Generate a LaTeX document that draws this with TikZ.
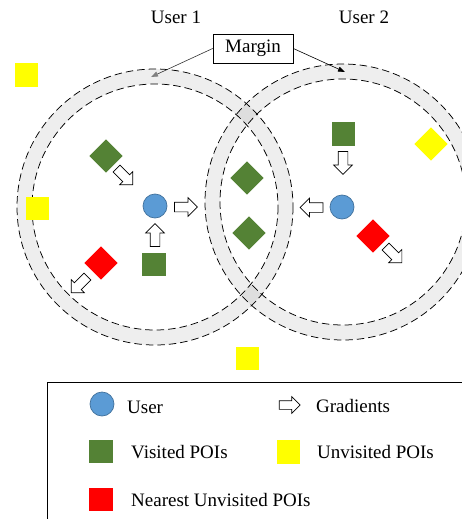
\documentclass[tikz,border=0pt]{standalone}
\usepackage{fontspec}
\setmainfont{Liberation Serif}
\usetikzlibrary{shapes.arrows,shapes.geometric,arrows.meta}
\definecolor{poigreen}{HTML}{548235}
\definecolor{poiyellow}{HTML}{FFFF00}
\definecolor{poired}{HTML}{FF0000}
\definecolor{userblue}{HTML}{5B9BD5}
\definecolor{userborder}{HTML}{41719C}
\tikzset{
  poi/.style={rectangle, minimum width=23.5pt, minimum height=23.5pt, inner sep=0pt, draw=none},
  visited/.style={poi, fill=poigreen},
  unvisited/.style={poi, fill=poiyellow},
  nearest/.style={poi, fill=poired},
  usernode/.style={circle, fill=userblue, draw=userborder, line width=0.7pt, minimum size=24pt, inner sep=0pt},
  grad/.style={single arrow, draw=black, fill=white, line width=0.7pt, minimum height=23pt,
    inner xsep=0pt, inner ysep=4.5pt, single arrow head extend=4.5pt, single arrow head indent=0pt},
  ringfill/.style={fill=black, fill opacity=0.065, even odd rule},
  ringline/.style={draw=black, line width=0.75pt, dash pattern=on 7.5pt off 4pt},
  lbl/.style={inner sep=0pt, font=\fontsize{19}{22}\selectfont},
  marginarrow/.style={line width=0.6pt}
}
\begin{document}
\begin{tikzpicture}[x=1pt, y=-1pt]
\useasboundingbox (0,0) rectangle (462,519);
\clip (0,0) rectangle (462,519);
% ring centres
\coordinate (c1) at (155,207);
\coordinate (c2) at (343,202);
% rings
\fill[ringfill] (c1) circle[radius=138] (c1) circle[radius=123];
\fill[ringfill] (c2) circle[radius=138] (c2) circle[radius=123];
\draw[ringline] (c1) circle[radius=138];
\draw[ringline] (c1) circle[radius=123];
\draw[ringline] (c2) circle[radius=138];
\draw[ringline] (c2) circle[radius=123];
% titles
\node[lbl, anchor=base] (t1) at (176,24) {User 1};
\node[lbl, anchor=base] (t2) at (364,24) {User 2};
% margin label
\node[draw=black, fill=white, line width=0.7pt, minimum width=80pt, minimum height=29pt, inner sep=0pt,
      font=\fontsize{19}{22}\selectfont] (margin) at (253,48.5) {Margin};
\coordinate (mtipl) at (151,77);
\coordinate (mtipr) at (345,72);
\draw[marginarrow, draw=black!80, -{Triangle[length=7pt,width=5pt,color=gray]}] (margin.west) -- (mtipl);
\draw[marginarrow, -{Triangle[length=7pt,width=5pt]}] (margin.east) -- (mtipr);
% user 1 region
\node[unvisited] (y1) at (26.5,75) {};
\node[unvisited] (y2) at (37.5,208.5) {};
\node[visited, rotate=45] (g1) at (106,156) {};
\node[grad, rotate=-45] (a1) at (123,175) {};
\node[usernode] (u1) at (155,206) {};
\node[grad] (a2) at (183.5,207) {};
\node[grad, rotate=90] (a3) at (155,237.5) {};
\node[visited] (g2) at (154,264.5) {};
\node[nearest, rotate=45] (r1) at (101,263) {};
\node[grad, rotate=-135] (a4) at (81,283) {};
% overlap
\node[visited, rotate=45] (g3) at (247,178) {};
\node[visited, rotate=45] (g4) at (249,233) {};
% user 2 region
\node[visited] (g5) at (343.5,134) {};
\node[grad, rotate=-90] (a5) at (343,160.5) {};
\node[unvisited, rotate=45] (y3) at (431,144) {};
\node[usernode] (u2) at (342,207) {};
\node[grad, rotate=180] (a6) at (314,207.5) {};
\node[nearest, rotate=45] (r2) at (373,236) {};
\node[grad, rotate=-45] (a7) at (392,253) {};
\node[unvisited] (y4) at (247.5,358.5) {};
% legend
\node[draw=black, line width=0.9pt, minimum width=440pt, minimum height=160pt, anchor=north west, inner sep=0pt] (legend) at (47,382) {};
\node[usernode] (lu) at (102,404) {};
\node[lbl, anchor=base west] (lut) at (127,413) {User};
\node[grad, minimum height=21pt, inner ysep=4pt, single arrow head extend=4pt] (la) at (287.5,405) {};
\node[lbl, anchor=base west] (lat) at (316,412) {Gradients};
\node[visited] (lg) at (101,451.5) {};
\node[lbl, anchor=base west] (lgt) at (131,458) {Visited POIs};
\node[unvisited] (ly) at (288.5,452) {};
\node[lbl, anchor=base west] (lyt) at (317,458) {Unvisited POIs};
\node[nearest] (lr) at (101,499.5) {};
\node[lbl, anchor=base west] (lrt) at (131,506) {Nearest Unvisited POIs};
\end{tikzpicture}
\end{document}
